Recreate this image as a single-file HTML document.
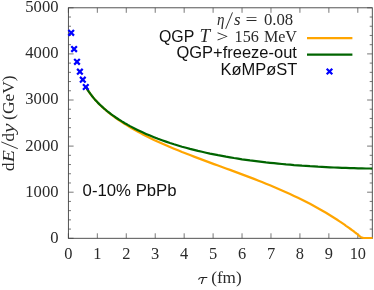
<!DOCTYPE html>
<html><head><meta charset="utf-8"><title>plot</title>
<style>
html,body{margin:0;padding:0;background:#fff;}
svg{display:block;will-change:transform;}
text{font-family:"Liberation Serif",serif;font-size:16.5px;fill:#2a2a2a;}
.ss{font-family:"Liberation Sans",sans-serif;font-size:16.6px;fill:#111;}
.it{font-style:italic;}
</style></head><body>
<svg width="374" height="290" viewBox="0 0 374 290">
<rect width="374" height="290" fill="#fff"/>
<path d="M68.40,238.30v-5 M68.40,7.80v5 M97.34,238.30v-5 M97.34,7.80v5 M126.28,238.30v-5 M126.28,7.80v5 M155.22,238.30v-5 M155.22,7.80v5 M184.16,238.30v-5 M184.16,7.80v5 M213.10,238.30v-5 M213.10,7.80v5 M242.04,238.30v-5 M242.04,7.80v5 M270.98,238.30v-5 M270.98,7.80v5 M299.92,238.30v-5 M299.92,7.80v5 M328.86,238.30v-5 M328.86,7.80v5 M357.80,238.30v-5 M357.80,7.80v5 M68.40,238.30h5.2 M372.30,238.30h-5.2 M68.40,229.08h2.6 M372.30,229.08h-2.6 M68.40,219.86h2.6 M372.30,219.86h-2.6 M68.40,210.64h2.6 M372.30,210.64h-2.6 M68.40,201.42h2.6 M372.30,201.42h-2.6 M68.40,192.20h5.2 M372.30,192.20h-5.2 M68.40,182.98h2.6 M372.30,182.98h-2.6 M68.40,173.76h2.6 M372.30,173.76h-2.6 M68.40,164.54h2.6 M372.30,164.54h-2.6 M68.40,155.32h2.6 M372.30,155.32h-2.6 M68.40,146.10h5.2 M372.30,146.10h-5.2 M68.40,136.88h2.6 M372.30,136.88h-2.6 M68.40,127.66h2.6 M372.30,127.66h-2.6 M68.40,118.44h2.6 M372.30,118.44h-2.6 M68.40,109.22h2.6 M372.30,109.22h-2.6 M68.40,100.00h5.2 M372.30,100.00h-5.2 M68.40,90.78h2.6 M372.30,90.78h-2.6 M68.40,81.56h2.6 M372.30,81.56h-2.6 M68.40,72.34h2.6 M372.30,72.34h-2.6 M68.40,63.12h2.6 M372.30,63.12h-2.6 M68.40,53.90h5.2 M372.30,53.90h-5.2 M68.40,44.68h2.6 M372.30,44.68h-2.6 M68.40,35.46h2.6 M372.30,35.46h-2.6 M68.40,26.24h2.6 M372.30,26.24h-2.6 M68.40,17.02h2.6 M372.30,17.02h-2.6 M68.40,7.80h5.2 M372.30,7.80h-5.2" stroke="#555" stroke-width="0.8" fill="none"/>
<rect x="68.40" y="7.80" width="303.90" height="230.50" fill="none" stroke="#404040" stroke-width="0.9"/>
<text x="58.5" y="242.7" text-anchor="end" textLength="8.3" lengthAdjust="spacingAndGlyphs">0</text>
<text x="58.5" y="196.6" text-anchor="end" textLength="33.2" lengthAdjust="spacingAndGlyphs">1000</text>
<text x="58.5" y="150.5" text-anchor="end" textLength="33.2" lengthAdjust="spacingAndGlyphs">2000</text>
<text x="58.5" y="104.4" text-anchor="end" textLength="33.2" lengthAdjust="spacingAndGlyphs">3000</text>
<text x="58.5" y="58.3" text-anchor="end" textLength="33.2" lengthAdjust="spacingAndGlyphs">4000</text>
<text x="58.5" y="12.2" text-anchor="end" textLength="33.2" lengthAdjust="spacingAndGlyphs">5000</text>
<text x="68.4" y="259.4" text-anchor="middle" textLength="8.2" lengthAdjust="spacingAndGlyphs">0</text>
<text x="97.3" y="259.4" text-anchor="middle" textLength="8.2" lengthAdjust="spacingAndGlyphs">1</text>
<text x="126.3" y="259.4" text-anchor="middle" textLength="8.2" lengthAdjust="spacingAndGlyphs">2</text>
<text x="155.2" y="259.4" text-anchor="middle" textLength="8.2" lengthAdjust="spacingAndGlyphs">3</text>
<text x="184.2" y="259.4" text-anchor="middle" textLength="8.2" lengthAdjust="spacingAndGlyphs">4</text>
<text x="213.1" y="259.4" text-anchor="middle" textLength="8.2" lengthAdjust="spacingAndGlyphs">5</text>
<text x="242.0" y="259.4" text-anchor="middle" textLength="8.2" lengthAdjust="spacingAndGlyphs">6</text>
<text x="271.0" y="259.4" text-anchor="middle" textLength="8.2" lengthAdjust="spacingAndGlyphs">7</text>
<text x="299.9" y="259.4" text-anchor="middle" textLength="8.2" lengthAdjust="spacingAndGlyphs">8</text>
<text x="328.9" y="259.4" text-anchor="middle" textLength="8.2" lengthAdjust="spacingAndGlyphs">9</text>
<text x="357.8" y="259.4" text-anchor="middle" textLength="16.3" lengthAdjust="spacingAndGlyphs">10</text>
<path d="M198.7,279.2 C199.3,277.7 200.2,277.5 201.5,277.5 L206.9,277.5 M203.4,277.6 L201.5,283.5" stroke="#222" stroke-width="1.15" fill="none" stroke-linecap="round"/>
<text x="211.2" y="283.3" textLength="30.5" lengthAdjust="spacingAndGlyphs">(fm)</text>
<g transform="translate(14.2,170.9) rotate(-90)"><text x="0" y="0" textLength="8.4" lengthAdjust="spacingAndGlyphs">d</text><text x="8.6" y="0" textLength="12.2" lengthAdjust="spacingAndGlyphs" class="it">E</text><path d="M22.2,3.6L29,-12.9" stroke="#222" stroke-width="0.9" fill="none"/><text x="29.5" y="0" textLength="8.4" lengthAdjust="spacingAndGlyphs">d</text><text x="37.8" y="0" textLength="9.6" lengthAdjust="spacingAndGlyphs" class="it">y</text><text x="51.0" y="0" textLength="44.6" lengthAdjust="spacingAndGlyphs">(GeV)</text></g>
<text x="217" y="25.3" textLength="7.5" lengthAdjust="spacingAndGlyphs" class="it">η</text>
<path d="M225.7,28.9L232.5,12.4" stroke="#222" stroke-width="0.9" fill="none"/>
<text x="234" y="25.3" textLength="6.6" lengthAdjust="spacingAndGlyphs" class="it">s</text>
<text x="245.5" y="25.3" textLength="12" lengthAdjust="spacingAndGlyphs">=</text>
<text x="263.9" y="25.3" textLength="29.3" lengthAdjust="spacingAndGlyphs">0.08</text>
<text class="ss" x="158.9" y="41.8" textLength="35.4" lengthAdjust="spacingAndGlyphs">QGP</text>
<text x="199.4" y="41.8" class="it" style="font-size:19px">T</text>
<text x="216.5" y="41.8" textLength="12" lengthAdjust="spacingAndGlyphs">&gt;</text>
<text x="234.6" y="41.8" textLength="24.3" lengthAdjust="spacingAndGlyphs">156</text>
<text x="263.9" y="41.8" textLength="33.1" lengthAdjust="spacingAndGlyphs">MeV</text>
<text class="ss" x="176.4" y="58.2" textLength="120.5" lengthAdjust="spacingAndGlyphs">QGP+freeze-out</text>
<text class="ss" x="220.6" y="75.0" textLength="76.8" lengthAdjust="spacingAndGlyphs">KøMPøST</text>
<text class="ss" x="82.6" y="195.9" textLength="94" lengthAdjust="spacingAndGlyphs">0-10% PbPb</text>
<path d="M307,38.1H352.4" stroke="#ffa500" stroke-width="2.2" fill="none"/>
<path d="M307,54.7H352.4" stroke="#006400" stroke-width="2.2" fill="none"/>
<path d="M85.8,86.7 L87.3,89.3 L88.8,91.6 L90.3,93.8 L91.8,95.8 L93.3,97.6 L94.8,99.4 L96.3,101.1 L97.8,102.7 L99.3,104.2 L100.8,105.7 L102.3,107.1 L103.8,108.4 L105.3,109.7 L106.8,111.0 L108.3,112.3 L109.8,113.5 L111.3,114.6 L112.8,115.8 L114.3,116.9 L115.8,118.0 L117.3,119.0 L118.8,120.1 L120.3,121.1 L121.8,122.1 L123.3,123.0 L124.8,124.0 L126.3,124.9 L127.8,125.9 L129.3,126.8 L130.0,127.2 L134.0,129.5 L138.0,131.7 L142.0,133.9 L146.0,135.9 L150.0,137.9 L154.0,139.9 L158.0,141.7 L162.0,143.5 L166.0,145.3 L170.0,147.0 L174.0,148.7 L178.0,150.3 L182.0,152.0 L186.0,153.5 L190.0,155.1 L194.0,156.6 L198.0,158.1 L202.0,159.6 L206.0,161.1 L210.0,162.6 L214.0,164.1 L218.0,165.5 L222.0,167.0 L226.0,168.5 L230.0,169.9 L234.0,171.4 L238.0,172.9 L242.0,174.4 L246.0,175.9 L250.0,177.4 L254.0,178.9 L258.0,180.5 L262.0,182.0 L266.0,183.7 L270.0,185.3 L274.0,187.0 L278.0,188.7 L282.0,190.4 L286.0,192.2 L290.0,194.0 L294.0,195.9 L298.0,197.8 L302.0,199.7 L306.0,201.8 L310.0,203.8 L314.0,206.0 L318.0,208.2 L322.0,210.5 L326.0,212.8 L330.0,215.3 L334.0,217.8 L338.0,220.3 L340.0,221.7 L341.5,222.7 L343.0,223.7 L344.5,224.7 L346.0,225.8 L347.5,226.8 L349.0,227.9 L350.5,229.0 L352.0,230.1 L353.5,231.2 L355.0,232.4 L356.5,233.5 L358.0,234.7 L358.2,234.8 L359.5,236.2 L361.2,237.4 L363.6,238.0 L372.5,238.0" stroke="#ffa500" stroke-width="2.2" fill="none" stroke-linejoin="round"/>
<path d="M85.8,86.7 L87.3,89.3 L88.8,91.6 L90.3,93.7 L91.8,95.7 L93.3,97.6 L94.8,99.4 L96.3,101.0 L97.8,102.6 L99.3,104.1 L100.8,105.5 L102.3,106.9 L103.8,108.3 L105.3,109.5 L106.8,110.8 L108.3,112.0 L109.8,113.1 L111.3,114.3 L112.8,115.4 L114.3,116.4 L115.8,117.5 L117.3,118.5 L118.8,119.5 L120.3,120.4 L121.8,121.4 L123.3,122.3 L124.8,123.2 L126.3,124.0 L127.8,124.9 L129.3,125.7 L130.0,126.1 L134.0,128.2 L138.0,130.2 L142.0,132.1 L146.0,133.9 L150.0,135.6 L154.0,137.2 L158.0,138.8 L162.0,140.2 L166.0,141.6 L170.0,143.0 L174.0,144.3 L178.0,145.5 L182.0,146.7 L186.0,147.8 L190.0,148.9 L194.0,149.9 L198.0,150.9 L202.0,151.8 L206.0,152.7 L210.0,153.6 L214.0,154.4 L218.0,155.2 L222.0,155.9 L226.0,156.7 L230.0,157.3 L234.0,158.0 L238.0,158.6 L242.0,159.3 L246.0,159.8 L250.0,160.4 L254.0,160.9 L258.0,161.4 L262.0,161.9 L266.0,162.4 L270.0,162.8 L274.0,163.2 L278.0,163.6 L282.0,164.0 L286.0,164.4 L290.0,164.7 L294.0,165.1 L298.0,165.4 L302.0,165.7 L306.0,165.9 L310.0,166.2 L314.0,166.4 L318.0,166.7 L322.0,166.9 L326.0,167.1 L330.0,167.3 L334.0,167.5 L338.0,167.6 L342.0,167.8 L346.0,167.9 L350.0,168.1 L354.0,168.2 L358.0,168.3 L362.0,168.4 L366.0,168.5 L370.0,168.5 L372.3,168.6" stroke="#006400" stroke-width="2.2" fill="none" stroke-linejoin="round"/>
<path d="M68.4,30.0l5.6,5.6 M68.4,35.6l5.6,-5.6 M71.3,46.3l5.6,5.6 M71.3,51.9l5.6,-5.6 M74.2,59.0l5.6,5.6 M74.2,64.6l5.6,-5.6 M77.1,68.9l5.6,5.6 M77.1,74.5l5.6,-5.6 M80.0,76.9l5.6,5.6 M80.0,82.5l5.6,-5.6 M83.0,84.2l5.6,5.6 M83.0,89.8l5.6,-5.6 M326.7,68.7l5.6,5.6 M326.7,74.3l5.6,-5.6" stroke="#0000ff" stroke-width="2.2" fill="none"/>
</svg></body></html>
